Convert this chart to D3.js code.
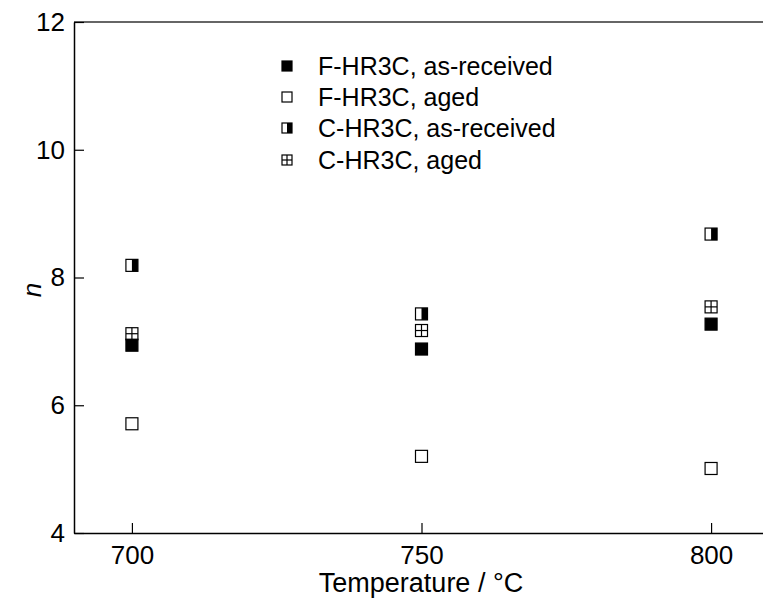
<!DOCTYPE html>
<html>
<head>
<meta charset="utf-8">
<script src="https://cdn.jsdelivr.net/npm/d3@7"></script>
<style>
body{margin:0;background:#fff;}
text{font-family:"Liberation Sans",Arial,sans-serif;fill:#000;}
</style>
</head>
<body>
<svg id="chart" width="763" height="608"></svg>
<script>
const temperatures = [700, 750, 800];
const fAsReceived = [6.94, 6.88, 7.27];
const fAged = [5.71, 5.20, 5.01];
const cAsReceived = [8.19, 7.43, 8.68];
const cAged = [7.12, 7.17, 7.54];
const seriesNames = ["F-HR3C, as-received", "F-HR3C, aged", "C-HR3C, as-received", "C-HR3C, aged"];
const seriesKinds = ["filled", "open", "half", "grid"];
const xTicks = [700, 750, 800];
const yTicks = [4, 6, 8, 10, 12];

(function () {
const series = [fAsReceived, fAged, cAsReceived, cAged].map((vals, i) => ({
  name: seriesNames[i], kind: seriesKinds[i],
  points: vals.map((v, j) => ({x: temperatures[j], y: v}))
}));

const svg = d3.select("#chart");
const mL = 74, mR = 769, mT = 22, mB = 533;
const x = d3.scaleLinear().domain([690, 810]).range([mL, mR]);
const y = d3.scaleLinear().domain([4, 12]).range([mB, mT]);

svg.append("line").attr("x1", mL).attr("x2", mR).attr("y1", mT).attr("y2", mT)
  .attr("stroke", "#333").attr("stroke-width", 1.5);

const gx = svg.append("g").attr("transform", `translate(0,${mB})`)
  .call(d3.axisBottom(x).tickValues(xTicks).tickSizeInner(-10).tickSizeOuter(0).tickPadding(13));
gx.select(".domain").attr("stroke", "#000").attr("stroke-width", 1.5);
gx.selectAll(".tick line").attr("stroke", "#000").attr("stroke-width", 1.2);
gx.selectAll(".tick text").attr("font-size", 26).attr("font-family", "Liberation Sans, Arial, sans-serif");

const gy = svg.append("g").attr("transform", `translate(${mL},0)`)
  .call(d3.axisLeft(y).tickValues(yTicks).tickSizeInner(-10).tickSizeOuter(0).tickPadding(9));
gy.select(".domain").attr("stroke", "#000").attr("stroke-width", 1.5);
gy.selectAll(".tick line").attr("stroke", "#000").attr("stroke-width", 1.2);
gy.selectAll(".tick text").attr("font-size", 26).attr("font-family", "Liberation Sans, Arial, sans-serif");

svg.append("text").attr("x", 421).attr("y", 592).attr("text-anchor", "middle")
  .attr("font-size", 27).text("Temperature / °C");
svg.append("text").attr("transform", `translate(41,290) rotate(-90)`)
  .attr("text-anchor", "middle").attr("font-size", 26).attr("font-style", "italic").text("n");

function drawMarker(g, kind, cx, cy, s) {
  const h = s / 2;
  if (kind === "filled") {
    g.append("rect").attr("x", cx - h).attr("y", cy - h).attr("width", s).attr("height", s)
      .attr("fill", "#000").attr("stroke", "#000").attr("stroke-width", 1.2);
  } else if (kind === "open") {
    g.append("rect").attr("x", cx - h).attr("y", cy - h).attr("width", s).attr("height", s)
      .attr("fill", "#fff").attr("stroke", "#000").attr("stroke-width", 1.2);
  } else if (kind === "half") {
    g.append("rect").attr("x", cx - h).attr("y", cy - h).attr("width", s).attr("height", s)
      .attr("fill", "#fff").attr("stroke", "#000").attr("stroke-width", 1.2);
    g.append("rect").attr("x", cx).attr("y", cy - h).attr("width", h).attr("height", s)
      .attr("fill", "#000");
  } else {
    g.append("rect").attr("x", cx - h).attr("y", cy - h).attr("width", s).attr("height", s)
      .attr("fill", "#fff").attr("stroke", "#000").attr("stroke-width", 1.2);
    g.append("line").attr("x1", cx).attr("x2", cx).attr("y1", cy - h).attr("y2", cy + h)
      .attr("stroke", "#000").attr("stroke-width", 1.2);
    g.append("line").attr("x1", cx - h).attr("x2", cx + h).attr("y1", cy).attr("y2", cy)
      .attr("stroke", "#000").attr("stroke-width", 1.2);
  }
}

const drawOrder = [2, 3, 0, 1];
drawOrder.forEach(i => {
  const s = series[i];
  const g = svg.append("g").attr("class", "series");
  s.points.forEach(p => drawMarker(g, s.kind, x(p.x), y(p.y), 12));
});

const legend = svg.append("g");
const legendY = [66, 97, 128, 160];
series.forEach((s, i) => {
  drawMarker(legend, s.kind, 287, legendY[i], 10);
  legend.append("text").attr("x", 318).attr("y", legendY[i]).attr("dy", "0.35em")
    .attr("font-size", 25).text(s.name);
});
})();
</script>
</body>
</html>
